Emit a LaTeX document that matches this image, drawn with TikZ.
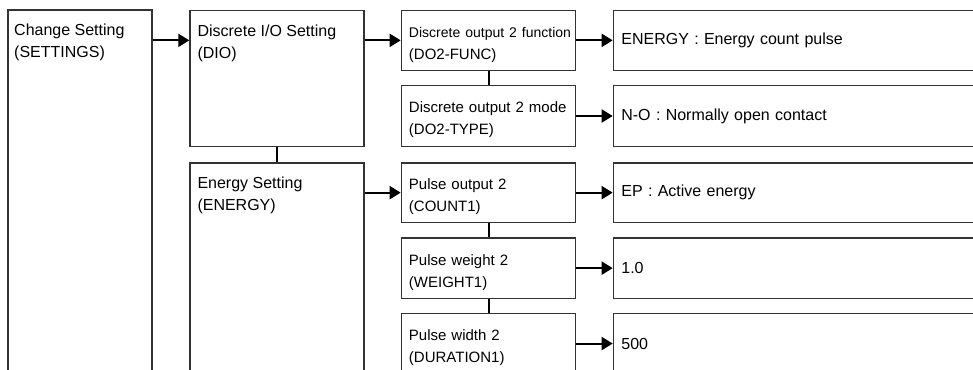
\documentclass[tikz,border=0pt]{standalone}
\usepackage{fontspec}
\setmainfont{Liberation Sans}
\usetikzlibrary{arrows.meta}
\begin{document}
\begin{tikzpicture}[x=1pt,y=-1pt,
  box/.style={draw=black!80, line width=1.3pt, rectangle, inner sep=0pt, anchor=north west},
  cthree/.style={box, minimum width=174.3pt, minimum height=60.3pt, text width=159.1pt, inner xsep=7.6pt, align=left, font=\fontsize{15}{22}\selectfont, execute at begin node={\rule{0pt}{19pt}}},
  cfour/.style={box, minimum width=400pt, minimum height=60.3pt, text width=384pt, inner xsep=8pt, align=left, font=\fontsize{16}{22}\selectfont},
  lbl/.style={anchor=base west, inner sep=0pt, align=left, font=\fontsize{16}{22}\selectfont},
  arr/.style={draw=black, line width=2pt, -{Triangle[length=11pt,width=13pt]}},
  link/.style={draw=black, line width=2pt}]
\useasboundingbox (0,0) rectangle (973,369);
\clip (0,0) rectangle (973,369);
\fill[white] (0,0) rectangle (973,369);
% column 1 and 2
\node[box, minimum width=144pt, minimum height=420pt] (set) at (7.3,9.5) {};
\node[box, minimum width=174pt, minimum height=136pt] (dio) at (189.3,9.7) {};
\node[box, minimum width=174pt, minimum height=260pt] (energy) at (189.3,162.3) {};
\node[lbl] (settxt) at ([xshift=6.7pt,yshift=-48.5pt]set.north west) {Change Setting\\(SETTINGS)};
\node[lbl] (diotxt) at ([xshift=8pt,yshift=-48.5pt]dio.north west) {Discrete I/O Setting\\(DIO)};
\node[lbl] (entxt) at ([xshift=8pt,yshift=-48.5pt]energy.north west) {Energy Setting\\(ENERGY)};
% column 3
\node[cthree, minimum height=60pt] (func) at (400.7,9.7) {\mbox{\fontsize{14}{22}\selectfont Discrete output 2 function}\\(DO2-FUNC)};
\node[cthree, minimum height=60.7pt] (type) at (400.7,85) {Discrete output 2 mode\\(DO2-TYPE)};
\node[cthree, minimum height=59.4pt] (count) at (400.7,162.3) {Pulse output 2\\(COUNT1)};
\node[cthree, minimum height=60.4pt] (weight) at (400.7,237.3) {Pulse weight 2\\(WEIGHT1)};
\node[cthree, minimum height=60.4pt] (dur) at (400.7,312.7) {Pulse width 2\\(DURATION1)};
% column 4
\node[cfour, minimum height=60pt] (vfunc) at (612.7,9.7) {ENERGY : Energy count pulse};
\node[cfour, minimum height=60.7pt] (vtype) at (612.7,85) {N-O : Normally open contact};
\node[cfour, minimum height=59.4pt] (vcount) at (612.7,162.3) {EP : Active energy};
\node[cfour, minimum height=60.4pt] (vweight) at (612.7,237.3) {1.0};
\node[cfour, minimum height=60.4pt] (vdur) at (612.7,312.7) {500};
% connectors
\draw[arr] (set.east |- func.west) -- (dio.west |- func.west);
\draw[arr] (dio.east |- func.west) -- (func.west);
\draw[arr] (energy.east |- count.west) -- (count.west);
\draw[arr] (func.east) -- (vfunc.west);
\draw[arr] (type.east) -- (vtype.west);
\draw[arr] (count.east) -- (vcount.west);
\draw[arr] (weight.east) -- (vweight.west);
\draw[arr] (dur.east) -- (vdur.west);
\draw[link] (dio.south) -- (energy.north);
\draw[link] (func.south) -- (type.north);
\draw[link] (count.south) -- (weight.north);
\draw[link] (weight.south) -- (dur.north);
\end{tikzpicture}
\end{document}
